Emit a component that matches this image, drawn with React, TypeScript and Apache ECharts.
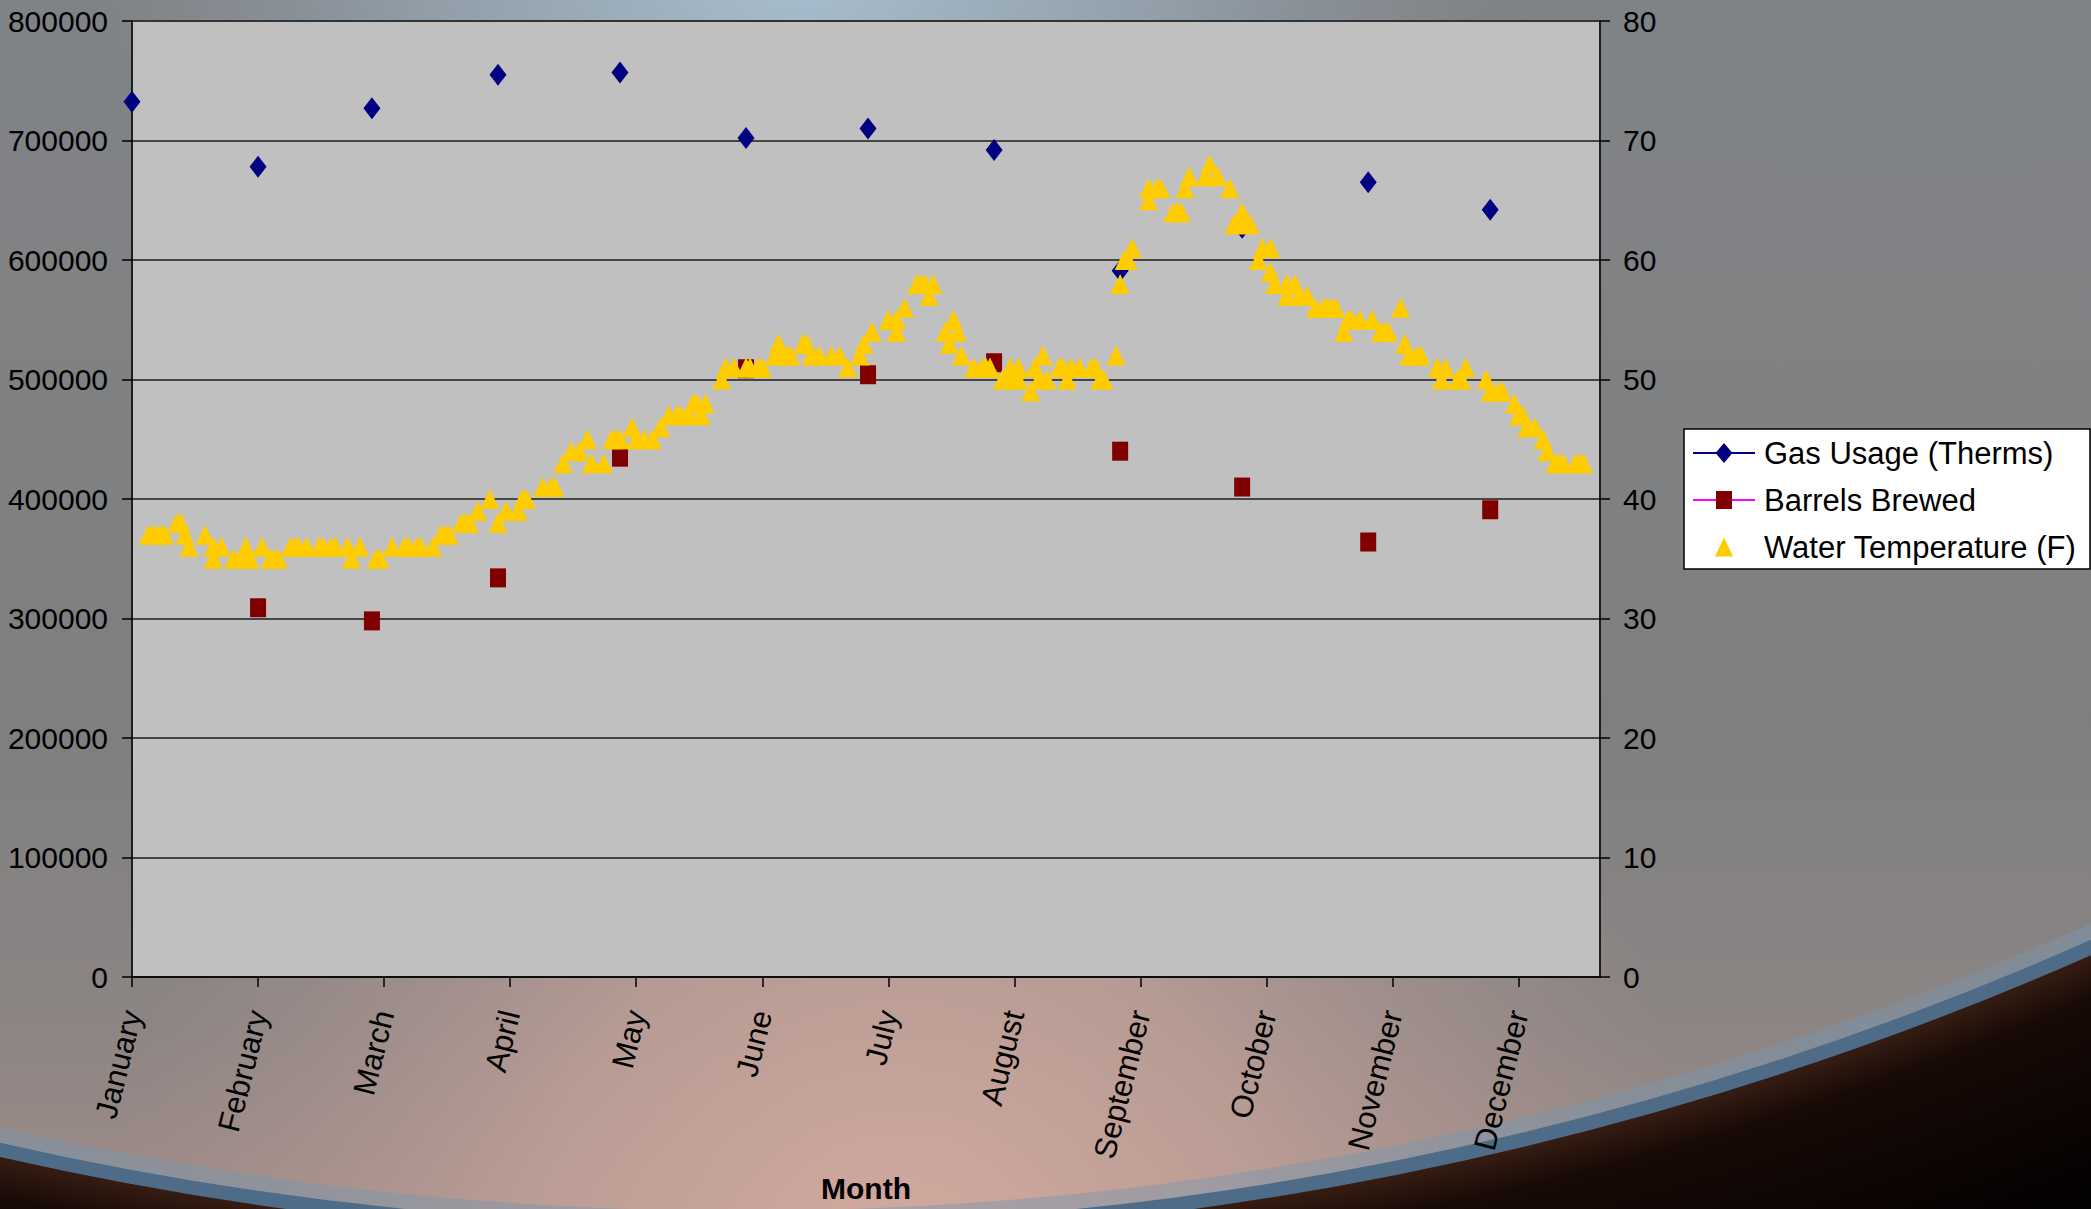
import React, { useEffect, useRef } from 'react';
import * as echarts from 'echarts';

// ---------- DATA ----------
const monthLabels = ['January', 'February', 'March', 'April', 'May', 'June', 'July', 'August', 'September', 'October', 'November', 'December'];
const tickDays = [0, 31, 62, 93, 124, 155, 186, 217, 248, 279, 310, 341];
const axisMaxDay = 361;

const gasDays = [0, 31, 59, 90, 120, 151, 181, 212, 243, 273, 304, 334];
const gasUsage = [732500, 678000, 727000, 755000, 757000, 702000, 710000, 692000, 591000, 627000, 665000, 642000];

const barrelDays = [31, 59, 90, 120, 151, 181, 212, 243, 273, 304, 334];
const barrelsBrewed = [309000, 298000, 334000, 435000, 509000, 504000, 514000, 440000, 410000, 364000, 391000];

const tempDays = [
  4, 5, 6, 7, 8, 11, 12, 13, 14, 18, 20, 20, 22, 25, 27, 28, 28, 29, 32, 34, 35, 36, 39, 40, 41, 43, 46, 47, 49, 50, 53, 54, 56, 60, 61, 64, 67, 68, 70, 71,
  74, 76, 77, 78, 81, 82, 83, 85, 88, 90, 92, 95, 96, 97, 101, 103, 104, 106, 108, 110, 112, 113, 116, 118, 119, 120, 123, 124, 126, 128, 130, 132, 134, 135, 137, 138, 139, 140, 141,
  145, 146, 148, 151, 152, 154, 155, 158, 159, 160, 161, 162, 165, 166, 167, 169, 172, 174, 176, 179, 180, 182, 186, 188, 188, 190, 193, 194, 195, 196, 197, 200, 201, 202, 203, 204, 207,
  209, 210, 211, 214, 216, 216, 218, 218, 221, 222, 223, 224, 225, 228, 229, 230, 231, 233, 236, 237, 238, 239, 242, 243, 244, 245, 246, 250, 250, 252, 253, 256, 257, 258, 259, 260, 264, 265, 267, 270, 271, 273, 273, 275, 277, 278, 280, 280, 281, 284, 284,
  286, 287, 289, 291, 293, 294, 295, 296, 298, 299, 300, 302, 305, 307, 308, 309, 312, 313, 314, 316, 317, 321, 322, 323, 326, 327, 328, 333, 334, 336, 337, 340, 341, 342, 343, 345, 347, 348, 350, 351, 352, 355, 356, 357,
];
const tempValues = [
  37, 37, 37, 37, 37, 38, 38, 37, 36, 37, 35, 36, 36, 35, 35, 35, 36, 35, 36, 35, 35, 35, 36, 36, 36, 36, 36, 36, 36, 36, 36, 35, 36, 35, 35, 36, 36, 36, 36, 36,
  36, 37, 37, 37, 38, 38, 38, 39, 40, 38, 39, 39, 40, 40, 41, 41, 41, 43, 44, 44, 45, 43, 43, 45, 45, 45, 46, 45, 45, 45, 46, 47, 47, 47, 47, 48, 48, 47, 48,
  50, 51, 51, 51, 51, 51, 51, 52, 53, 52, 52, 52, 53, 53, 52, 52, 52, 52, 51, 52, 53, 54, 55, 55, 54, 56, 58, 58, 58, 57, 58, 54, 53, 55, 54, 52, 51,
  51, 51, 51, 50, 50, 51, 50, 51, 49, 51, 50, 52, 50, 51, 51, 50, 51, 51, 51, 51, 50, 50, 52, 58, 60, 60, 61, 65, 66, 66, 66, 64, 64, 64, 66, 67, 67, 68, 67, 66, 63, 63, 64, 63, 60, 61, 61, 59, 58, 58, 57,
  58, 57, 57, 56, 56, 56, 56, 56, 54, 55, 55, 55, 55, 54, 54, 54, 56, 53, 52, 52, 52, 51, 50, 51, 50, 50, 51, 50, 49, 49, 49, 48, 47, 47, 46, 46, 45, 44, 43, 43, 43, 43, 43, 43,
];

const leftTicks = [0, 100000, 200000, 300000, 400000, 500000, 600000, 700000, 800000];
const rightTicks = [0, 10, 20, 30, 40, 50, 60, 70, 80];

const seriesNames = ['Gas Usage (Therms)', 'Barrels Brewed', 'Water Temperature (F)'];

// ---------- LAYOUT / STYLE ----------
const W = 2091;
const H = 1209;
const FONT = '"Liberation Sans", Arial, Helvetica, sans-serif';
const GRID = { left: 132, top: 21, right: 1600, bottom: 977 };
const PLANET = { cx: 740, cy: -2106, r: 3335 };

function legendGraphics(): any[] {
  const boxX = 1684, boxY = 429, boxW = 406, boxH = 140;
  const rows = [453, 500, 547];
  const lx1 = 1693, lx2 = 1755, mx = 1724, tx = 1764;
  const els: any[] = [
    { type: 'rect', z: 100, shape: { x: boxX, y: boxY, width: boxW, height: boxH }, style: { fill: '#ffffff', stroke: '#000000', lineWidth: 1.5 } },
    { type: 'line', z: 101, shape: { x1: lx1, y1: rows[0], x2: lx2, y2: rows[0] }, style: { stroke: '#000080', lineWidth: 2 } },
    { type: 'polygon', z: 102, shape: { points: [[mx, rows[0] - 10], [mx + 8.5, rows[0]], [mx, rows[0] + 10], [mx - 8.5, rows[0]]] }, style: { fill: '#000080' } },
    { type: 'line', z: 101, shape: { x1: lx1, y1: rows[1], x2: lx2, y2: rows[1] }, style: { stroke: '#ff00ff', lineWidth: 2 } },
    { type: 'rect', z: 102, shape: { x: mx - 8, y: rows[1] - 9, width: 16, height: 18 }, style: { fill: '#800000' } },
    { type: 'polygon', z: 102, shape: { points: [[mx, rows[2] - 9.5], [mx + 9, rows[2] + 9.5], [mx - 9, rows[2] + 9.5]] }, style: { fill: '#ffcc00' } },
  ];
  seriesNames.forEach((name, i) => {
    els.push({
      type: 'text', z: 102, x: tx, y: rows[i],
      style: { text: name, fill: '#000000', fontSize: 31, fontFamily: FONT, align: 'left', verticalAlign: 'middle' },
    });
  });
  return els;
}

function backgroundGraphics(): any[] {
  const G = echarts.graphic as any;
  const outer = PLANET.r + 1400;
  return [
    {
      type: 'rect', z: -20, silent: true,
      shape: { x: 0, y: 0, width: W, height: H },
      style: {
        fill: new G.LinearGradient(0, 0, 0, 1, [
          { offset: 0, color: '#808386' },
          { offset: 0.6, color: '#7f7f80' },
          { offset: 0.85, color: '#8c8584' },
          { offset: 1, color: '#a08c88' },
        ]),
      },
    },
    {
      type: 'circle', z: -19, silent: true,
      shape: { cx: 800, cy: -60, r: 700 },
      style: {
        fill: new G.RadialGradient(0.5, 0.5, 0.5, [
          { offset: 0, color: 'rgba(172,196,214,0.95)' },
          { offset: 0.5, color: 'rgba(160,180,196,0.6)' },
          { offset: 1, color: 'rgba(150,165,180,0)' },
        ]),
      },
    },
    {
      type: 'circle', z: -19, silent: true,
      shape: { cx: 900, cy: 1260, r: 800 },
      style: {
        fill: new G.RadialGradient(0.5, 0.5, 0.5, [
          { offset: 0, color: 'rgba(214,172,160,0.95)' },
          { offset: 0.45, color: 'rgba(200,165,155,0.7)' },
          { offset: 1, color: 'rgba(180,150,145,0)' },
        ]),
      },
    },
    {
      type: 'ring', z: -18, silent: true,
      shape: { cx: PLANET.cx, cy: PLANET.cy, r: outer, r0: PLANET.r },
      style: {
        fill: new G.RadialGradient(PLANET.cx, PLANET.cy, outer, [
          { offset: 0, color: '#000000' },
          { offset: PLANET.r / outer, color: '#3e2216' },
          { offset: (PLANET.r + 50) / outer, color: '#180a06' },
          { offset: (PLANET.r + 220) / outer, color: '#040101' },
          { offset: 1, color: '#000000' },
        ], true),
      },
    },
    {
      type: 'circle', z: -17, silent: true,
      shape: { cx: PLANET.cx, cy: PLANET.cy, r: PLANET.r - 6 },
      style: { fill: 'none', stroke: 'rgba(120,150,175,0.45)', lineWidth: 24 },
    },
    {
      type: 'circle', z: -16, silent: true,
      shape: { cx: PLANET.cx, cy: PLANET.cy, r: PLANET.r + 4 },
      style: { fill: 'none', stroke: '#4e6c87', lineWidth: 14 },
    },
  ];
}

export default function App() {
  const ref = useRef<HTMLDivElement>(null);

  useEffect(() => {
    if (!ref.current) return;
    const chart = echarts.init(ref.current, null, { renderer: 'svg', width: W, height: H });

    const axisLabelStyle = { color: '#000000', fontSize: 30, fontFamily: FONT };

    const option: any = {
      animation: false,
      backgroundColor: '#808080',
      textStyle: { fontFamily: FONT },
      grid: {
        show: true,
        left: GRID.left,
        top: GRID.top,
        width: GRID.right - GRID.left,
        height: GRID.bottom - GRID.top,
        containLabel: false,
        outerBoundsMode: 'none',
        backgroundColor: '#c0c0c0',
        borderColor: '#7a7a7a',
        borderWidth: 2,
      },
      xAxis: {
        type: 'value',
        min: 0,
        max: axisMaxDay,
        interval: 31,
        name: 'Month',
        nameLocation: 'middle',
        nameGap: 196,
        nameTextStyle: { color: '#000000', fontSize: 30, fontWeight: 'bold', fontFamily: FONT, lineHeight: 30 },
        axisLine: { show: true, onZero: false, lineStyle: { color: '#000000', width: 1.5 } },
        axisTick: { show: true, inside: false, length: 10, lineStyle: { color: '#000000', width: 1.5 }, customValues: tickDays },
        axisLabel: {
          ...axisLabelStyle,
          fontSize: 31,
          rotate: 76,
          margin: 34,
          customValues: tickDays,
          formatter: (v: number) => {
            const i = tickDays.indexOf(Math.round(v));
            return i >= 0 ? monthLabels[i] : '';
          },
        },
        splitLine: { show: false },
      },
      yAxis: [
        {
          type: 'value',
          position: 'left',
          min: leftTicks[0],
          max: leftTicks[leftTicks.length - 1],
          interval: leftTicks[1] - leftTicks[0],
          axisLine: { show: true, lineStyle: { color: '#000000', width: 1.5 } },
          axisTick: { show: true, inside: false, length: 10, lineStyle: { color: '#000000', width: 1.5 } },
          axisLabel: { ...axisLabelStyle, margin: 24, formatter: (v: number) => String(v) },
          splitLine: { show: true, lineStyle: { color: '#1e1e1e', width: 1.6 } },
        },
        {
          type: 'value',
          position: 'right',
          min: rightTicks[0],
          max: rightTicks[rightTicks.length - 1],
          interval: rightTicks[1] - rightTicks[0],
          axisLine: { show: true, lineStyle: { color: '#000000', width: 1.5 } },
          axisTick: { show: true, inside: false, length: 10, lineStyle: { color: '#000000', width: 1.5 } },
          axisLabel: { ...axisLabelStyle, margin: 23, formatter: (v: number) => String(v) },
          splitLine: { show: false },
        },
      ],
      series: [
        {
          name: seriesNames[0],
          type: 'scatter',
          yAxisIndex: 0,
          symbol: 'diamond',
          symbolSize: [17, 22],
          itemStyle: { color: '#000080', opacity: 1 },
          z: 2,
          data: gasDays.map((d, i) => [d, gasUsage[i]]),
        },
        {
          name: seriesNames[1],
          type: 'scatter',
          yAxisIndex: 0,
          symbol: 'rect',
          symbolSize: [16, 19],
          itemStyle: { color: '#800000', opacity: 1 },
          z: 3,
          data: barrelDays.map((d, i) => [d, barrelsBrewed[i]]),
        },
        {
          name: seriesNames[2],
          type: 'scatter',
          yAxisIndex: 1,
          symbol: 'triangle',
          symbolSize: [19, 20],
          itemStyle: { color: '#ffcc00', opacity: 1 },
          z: 4,
          data: tempDays.map((d, i) => [d, tempValues[i]]),
        },
      ],
      graphic: { elements: [...backgroundGraphics(), ...legendGraphics()] },
    };

    chart.setOption(option);
    return () => chart.dispose();
  }, []);

  return <div ref={ref} style={{ position: 'absolute', left: 0, top: 0, width: W, height: H }} />;
}
